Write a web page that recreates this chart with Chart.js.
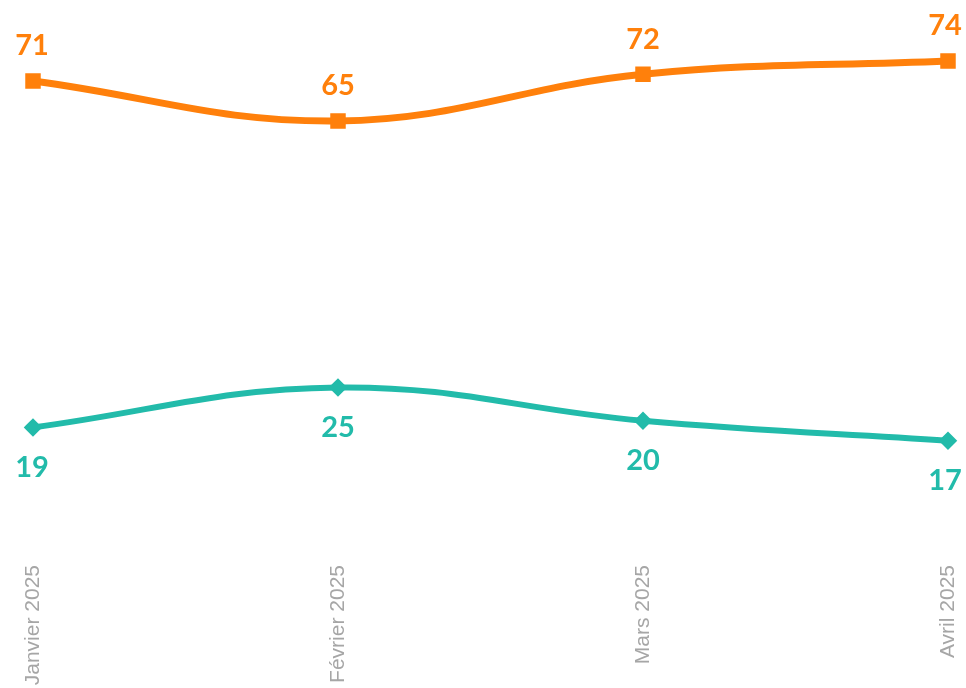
<!DOCTYPE html>
<html>
<head>
<meta charset="utf-8">
<script src="https://cdn.jsdelivr.net/npm/chart.js@4"></script>
<style>
  html, body { margin: 0; padding: 0; background: #fff; }
  #wrap { width: 966px; height: 688px; position: relative; }
</style>
</head>
<body>
<div id="wrap"><canvas id="lineChart"></canvas></div>
<script>
const months = ['Janvier 2025', 'Février 2025', 'Mars 2025', 'Avril 2025'];
const orangeValues = [71, 65, 72, 74];
const tealValues = [19, 25, 20, 17];

const ORANGE = '#FF800B';
const TEAL = '#22BBAA';

// draws the bold value above / below each point
const valueLabels = {
    id: 'valueLabels',
    afterDatasetsDraw(chart) {
        const ctx = chart.ctx;
        ctx.save();
        ctx.font = 'bold 29px "Lato", "DejaVu Sans", sans-serif';
        ctx.textAlign = 'center';
        ctx.textBaseline = 'middle';
        chart.data.datasets.forEach((ds, i) => {
            const meta = chart.getDatasetMeta(i);
            ctx.fillStyle = ds.borderColor;
            meta.data.forEach((pt, j) => {
                let x = pt.x;
                if (j === 0) x -= 1;
                if (j === meta.data.length - 1) x -= 3;
                const y = ds.labelAbove ? pt.y - 35 : pt.y + 40;
                ctx.fillText(ds.data[j], x, y);
            });
        });
        ctx.restore();
    }
};

new Chart(document.getElementById('lineChart').getContext('2d'), {
    type: 'line',
    data: {
        labels: months,
        datasets: [{
            data: orangeValues,
            borderColor: ORANGE,
            backgroundColor: ORANGE,
            borderWidth: 7,
            pointStyle: 'rect',
            pointRadius: 6,
            pointHoverRadius: 6,
            tension: 0.4,
            labelAbove: true
        }, {
            data: tealValues,
            borderColor: TEAL,
            backgroundColor: TEAL,
            borderWidth: 6,
            pointStyle: 'rectRot',
            pointRadius: 5,
            pointHoverRadius: 5,
            tension: 0.4,
            labelAbove: false
        }]
    },
    options: {
        responsive: true,
        maintainAspectRatio: false,
        animation: false,
        layout: { padding: { left: 33, right: 18, top: 21, bottom: 0 } },
        plugins: {
            legend: { display: false },
            tooltip: { enabled: false }
        },
        scales: {
            x: {
                grid: { display: false },
                border: { display: false },
                ticks: {
                    color: '#A6A6A6',
                    font: { family: '"Liberation Sans", Arial, sans-serif', size: 21 },
                    minRotation: 90,
                    maxRotation: 90,
                    padding: 3
                },
                afterFit(scale) {
                    scale.height = 134;
                    scale.paddingLeft = 0;
                    scale.paddingRight = 0;
                }
            },
            y: {
                display: false,
                min: 0,
                max: 80
            }
        }
    },
    plugins: [valueLabels]
});
</script>
</body>
</html>
